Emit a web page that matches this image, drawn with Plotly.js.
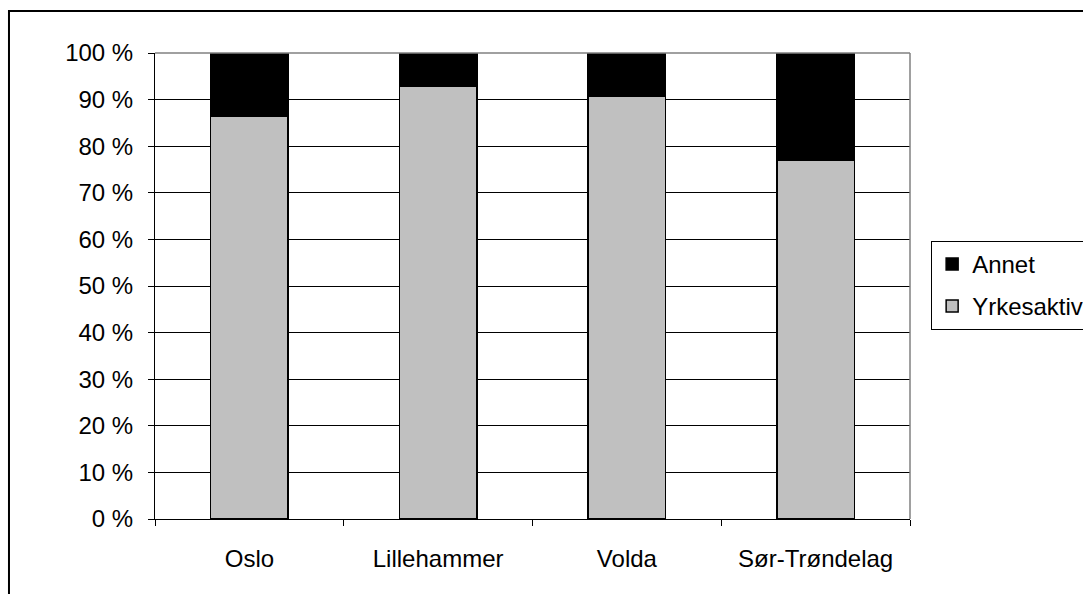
<!DOCTYPE html>
<html>
<head>
<meta charset="utf-8">
<script src="https://cdn.plot.ly/plotly-3.0.1.min.js"></script>
<style>html,body{margin:0;padding:0;background:#fff;}</style>
</head>
<body>
<div id="chart" style="width:1083px;height:594px;"></div>
<script>
const categories = ["Oslo", "Lillehammer", "Volda", "Sør-Trøndelag"];
const yrkesaktiv = [86.4, 92.9, 90.8, 77.0];
const annet = [13.6, 7.1, 9.2, 23.0];
const yTickVals = [0, 10, 20, 30, 40, 50, 60, 70, 80, 90, 100];
const yTickText = ["0 %", "10 %", "20 %", "30 %", "40 %", "50 %", "60 %", "70 %", "80 %", "90 %", "100 %"];

const traces = [
  {type: "bar", name: "Yrkesaktiv", x: categories, y: yrkesaktiv, legendgroup: "g1", legendrank: 2,
   marker: {color: "#C0C0C0", line: {color: "#000", width: 1.5}}},
  {type: "bar", name: "Annet", x: categories, y: annet, legendgroup: "g2", legendrank: 1,
   marker: {color: "#000000", line: {color: "#000", width: 1.5}}}
];

const layout = {
  width: 1083, height: 594,
  margin: {l: 155, r: 173, t: 53, b: 75, autoexpand: false},
  paper_bgcolor: "#fff", plot_bgcolor: "#fff",
  barmode: "stack", bargap: 0.59,
  font: {family: "Liberation Sans, Arial, sans-serif", size: 24, color: "#000"},
  xaxis: {
    showline: true, linecolor: "#000", linewidth: 1,
    ticks: "outside", ticklen: 6, tickcolor: "#000", tickson: "boundaries",
    ticklabelstandoff: 18, showgrid: false, fixedrange: true
  },
  yaxis: {
    range: [0, 100], tickvals: yTickVals, ticktext: yTickText,
    showline: true, linecolor: "#000", linewidth: 1,
    ticks: "outside", ticklen: 6, tickcolor: "#000",
    ticklabelstandoff: 10,
    showgrid: true, gridcolor: "#000", gridwidth: 1, zeroline: false, fixedrange: true
  },
  legend: {
    x: 1.028, xanchor: "left", y: 0.597, yanchor: "top",
    bordercolor: "#000", borderwidth: 1, bgcolor: "#fff",
    traceorder: "grouped", tracegroupgap: 8, font: {size: 24},
    itemwidth: 30
  },
  shapes: [
    {type: "rect", xref: "paper", yref: "paper", x0: -0.1934, x1: 1.6, y0: -0.5, y1: 1.0902,
     line: {color: "#000", width: 2}, fillcolor: "rgba(0,0,0,0)", layer: "below"},
    {type: "line", xref: "paper", yref: "paper", x0: 0, x1: 1, y0: 1, y1: 1,
     line: {color: "#808080", width: 1.5}},
    {type: "line", xref: "paper", yref: "paper", x0: 1, x1: 1, y0: 0, y1: 1,
     line: {color: "#808080", width: 1.5}}
  ]
};

Plotly.newPlot("chart", traces, layout, {displayModeBar: false, staticPlot: true});
</script>
</body>
</html>
